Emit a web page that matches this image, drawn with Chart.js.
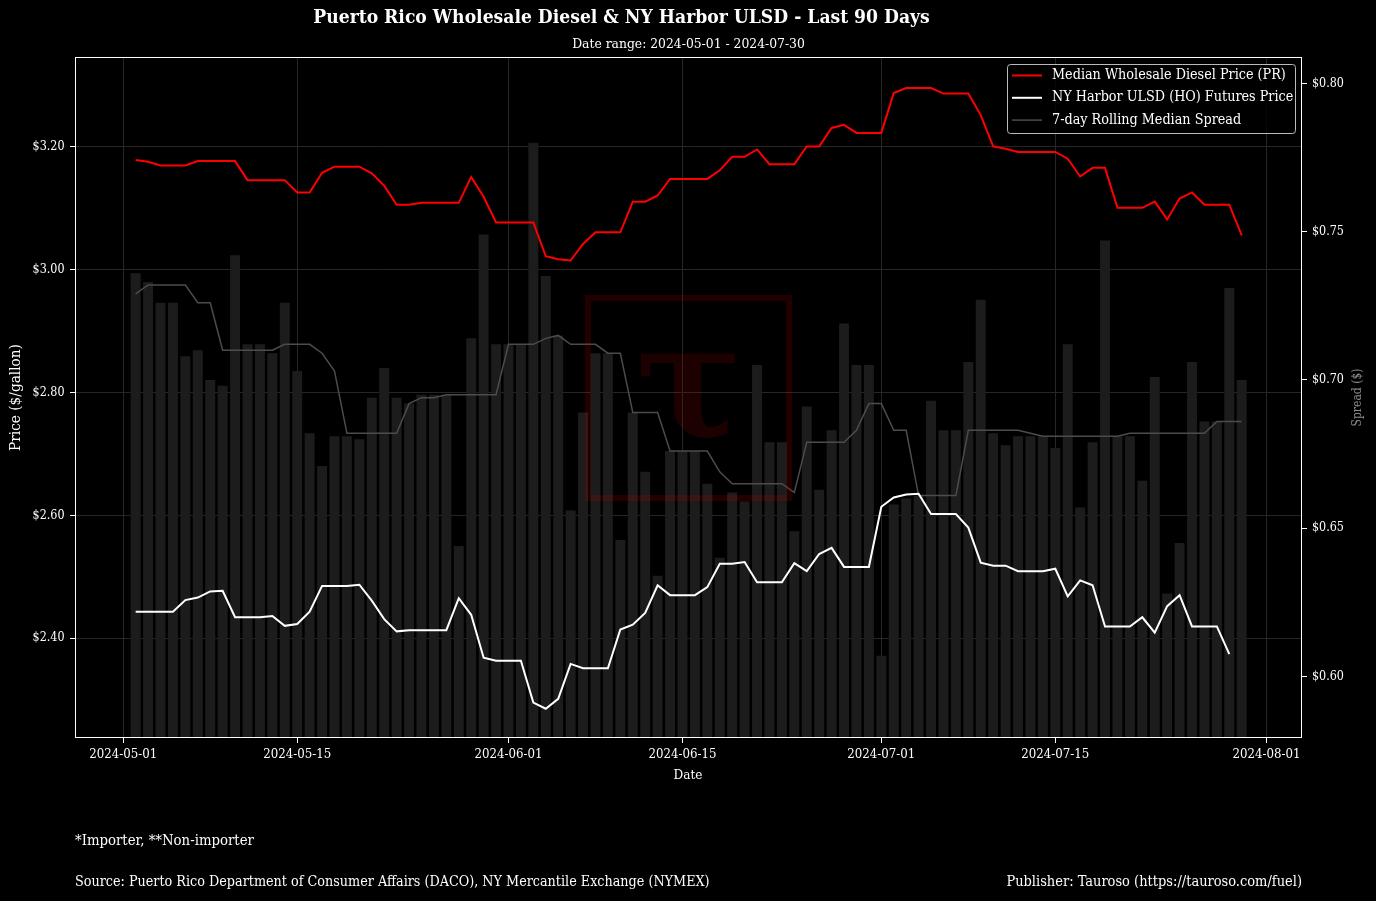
<!DOCTYPE html>
<html>
<head>
<meta charset="utf-8">
<script src="https://cdn.jsdelivr.net/npm/chart.js@4.4.1/dist/chart.umd.min.js"></script>
<style>
  html, body { margin: 0; padding: 0; background: #000; }
  #wrap { width: 1376px; height: 901px; }
</style>
</head>
<body>
<div id="wrap"><canvas id="chart" width="1376" height="901"></canvas></div>
<script>
// daily values, first point = startDate
const startDate = '2024-05-02';

const prPrice = [
  3.179, 3.176, 3.170, 3.170, 3.170, 3.177, 3.177, 3.177, 3.177, 3.146,
  3.146, 3.146, 3.146, 3.126, 3.126, 3.158, 3.168, 3.168, 3.168, 3.157,
  3.137, 3.106, 3.106, 3.109, 3.109, 3.109, 3.109, 3.151, 3.119, 3.077,
  3.077, 3.077, 3.077, 3.022, 3.017, 3.015, 3.042, 3.061, 3.061, 3.061,
  3.111, 3.111, 3.121, 3.148, 3.148, 3.148, 3.148, 3.162, 3.184, 3.184,
  3.196, 3.172, 3.172, 3.172, 3.201, 3.201, 3.231, 3.236, 3.223, 3.223,
  3.223, 3.288, 3.296, 3.296, 3.296, 3.287, 3.287, 3.287, 3.252, 3.201,
  3.197, 3.192, 3.192, 3.192, 3.192, 3.181, 3.152, 3.166, 3.166, 3.101,
  3.101, 3.101, 3.111, 3.082, 3.116, 3.126, 3.106, 3.106, 3.106, 3.056
];

const hoPrice = [
  2.443, 2.443, 2.443, 2.443, 2.462, 2.466, 2.476, 2.477, 2.434, 2.434,
  2.434, 2.436, 2.420, 2.423, 2.443, 2.485, 2.485, 2.485, 2.487, 2.461,
  2.431, 2.411, 2.413, 2.413, 2.413, 2.413, 2.465, 2.438, 2.368, 2.363,
  2.363, 2.363, 2.295, 2.285, 2.301, 2.358, 2.351, 2.351, 2.351, 2.414,
  2.422, 2.441, 2.486, 2.470, 2.470, 2.470, 2.483, 2.521, 2.521, 2.524,
  2.491, 2.491, 2.491, 2.522, 2.509, 2.537, 2.547, 2.516, 2.516, 2.516,
  2.614, 2.629, 2.634, 2.635, 2.602, 2.602, 2.602, 2.580, 2.523, 2.518,
  2.518, 2.509, 2.509, 2.509, 2.513, 2.468, 2.494, 2.486, 2.419, 2.419,
  2.419, 2.434, 2.409, 2.452, 2.470, 2.419, 2.419, 2.419, 2.374, null
];

const spread = [
  0.736, 0.733, 0.726, 0.726, 0.708, 0.710, 0.700, 0.698, 0.742, 0.712,
  0.712, 0.709, 0.726, 0.703, 0.682, 0.671, 0.681, 0.681, 0.680, 0.694,
  0.704, 0.694, 0.692, 0.695, 0.695, 0.695, 0.644, 0.714, 0.749, 0.712,
  0.712, 0.712, 0.780, 0.735, 0.715, 0.656, 0.689, 0.709, 0.709, 0.646,
  0.689, 0.669, 0.634, 0.676, 0.676, 0.676, 0.665, 0.640, 0.662, 0.659,
  0.705, 0.679, 0.679, 0.649, 0.691, 0.663, 0.683, 0.719, 0.705, 0.705,
  0.607, 0.658, 0.660, 0.661, 0.693, 0.683, 0.683, 0.706, 0.727, 0.682,
  0.678, 0.681, 0.681, 0.681, 0.677, 0.712, 0.657, 0.679, 0.747, 0.681,
  0.681, 0.666, 0.701, 0.628, 0.645, 0.706, 0.686, 0.686, 0.731, 0.700
];

const rollingSpread = [
  0.729, 0.732, 0.732, 0.732, 0.732, 0.726, 0.726, 0.710, 0.710, 0.710,
  0.710, 0.710, 0.712, 0.712, 0.712, 0.709, 0.703, 0.682, 0.682, 0.682,
  0.682, 0.682, 0.692, 0.694, 0.694, 0.695, 0.695, 0.695, 0.695, 0.695,
  0.712, 0.712, 0.712, 0.714, 0.715, 0.712, 0.712, 0.712, 0.709, 0.709,
  0.689, 0.689, 0.689, 0.676, 0.676, 0.676, 0.676, 0.669, 0.665, 0.665,
  0.665, 0.665, 0.665, 0.662, 0.679, 0.679, 0.679, 0.679, 0.683, 0.692,
  0.692, 0.683, 0.683, 0.661, 0.661, 0.661, 0.661, 0.683, 0.683, 0.683,
  0.683, 0.683, 0.682, 0.681, 0.681, 0.681, 0.681, 0.681, 0.681, 0.681,
  0.682, 0.682, 0.682, 0.682, 0.682, 0.682, 0.682, 0.686, 0.686, 0.686
];

const xTickDates = ['2024-05-01', '2024-05-15', '2024-06-01', '2024-06-15', '2024-07-01', '2024-07-15', '2024-08-01'];
const priceTicks = [2.40, 2.60, 2.80, 3.00, 3.20];
const spreadTicks = [0.60, 0.65, 0.70, 0.75, 0.80];

const FONT = "'DejaVu Serif', serif";

function dayIndex(d) {
  return Math.round((Date.parse(d) - Date.parse(startDate)) / 86400000);
}

function setFont(c, weight, size) {
  c.font = weight + ' ' + size + 'px ' + FONT;
  c.fontStretch = 'condensed';
}

// pick a font size so the text comes out at the width seen in the picture
const mctx = document.createElement('canvas').getContext('2d');
function fitSize(text, weight, width) {
  setFont(mctx, weight, 100);
  return 100 * width / mctx.measureText(text).width;
}

function pts(arr) {
  return arr.map((v, i) => ({ x: i, y: v }));
}

function drawText(ctx, text, x, y, align, width, weight, color) {
  setFont(ctx, weight, fitSize(text, weight, width));
  ctx.fillStyle = color;
  ctx.textAlign = align;
  ctx.textBaseline = 'middle';
  ctx.fillText(text, x, y);
}

const money = v => '$' + v.toFixed(2);
const yTickSize = fitSize('$3.20', 'normal', 32);
const xTickSize = fitSize('2024-05-01', 'normal', 68);

const series = [
  { label: 'Median Wholesale Diesel Price (PR)', color: '#ff0000', width: 2 },
  { label: 'NY Harbor ULSD (HO) Futures Price', color: '#ffffff', width: 2 },
  { label: '7-day Rolling Median Spread', color: '#4c4c4c', width: 1.5 }
];

const decor = {
  id: 'decor',
  beforeDraw(chart) {
    const ctx = chart.ctx;
    ctx.save();
    ctx.fillStyle = '#000';
    ctx.fillRect(0, 0, chart.width, chart.height);
    ctx.restore();
  },
  afterDatasetsDraw(chart) {
    // tauroso watermark
    const ctx = chart.ctx;
    const a = chart.chartArea;
    ctx.save();
    ctx.beginPath();
    ctx.rect(a.left, a.top, a.right - a.left, a.bottom - a.top);
    ctx.clip();
    ctx.strokeStyle = 'rgba(200, 0, 0, 0.17)';
    ctx.lineWidth = 6;
    ctx.strokeRect(588, 298, 201, 200);
    ctx.font = 'bold 200px ' + FONT;
    let m = ctx.measureText('τ');
    const h = m.actualBoundingBoxAscent + m.actualBoundingBoxDescent;
    ctx.font = 'bold ' + (200 * 90 / h) + 'px ' + FONT;
    m = ctx.measureText('τ');
    ctx.textAlign = 'left';
    ctx.textBaseline = 'alphabetic';
    ctx.fillStyle = 'rgba(170, 0, 0, 0.17)';
    const cx = 688, cy = 398;
    ctx.fillText('τ',
      cx - (m.actualBoundingBoxRight - m.actualBoundingBoxLeft) / 2,
      cy + (m.actualBoundingBoxAscent - m.actualBoundingBoxDescent) / 2);
    ctx.restore();
  },
  afterDraw(chart) {
    const ctx = chart.ctx;
    const a = chart.chartArea;
    const sx = chart.scales.x, sy = chart.scales.y, sy2 = chart.scales.y2;
    ctx.save();

    // frame
    ctx.strokeStyle = '#ffffff';
    ctx.lineWidth = 1;
    ctx.strokeRect(a.left + 0.5, a.top + 0.5, a.right - a.left - 1, a.bottom - a.top - 1);

    // tick labels
    ctx.fillStyle = '#ffffff';
    ctx.textBaseline = 'middle';
    setFont(ctx, 'normal', yTickSize);
    ctx.textAlign = 'right';
    priceTicks.forEach(v => ctx.fillText(money(v), a.left - 10.5, sy.getPixelForValue(v)));
    ctx.textAlign = 'left';
    spreadTicks.forEach(v => ctx.fillText(money(v), a.right + 10, sy2.getPixelForValue(v)));
    setFont(ctx, 'normal', xTickSize);
    ctx.textAlign = 'center';
    xTickDates.forEach(d => ctx.fillText(d, sx.getPixelForValue(dayIndex(d)), a.bottom + 17));

    // titles
    drawText(ctx, 'Puerto Rico Wholesale Diesel & NY Harbor ULSD - Last 90 Days', 621.5, 18, 'center', 617, 'bold', '#ffffff');
    drawText(ctx, 'Date range: 2024-05-01 - 2024-07-30', 688.5, 44, 'center', 233, 'normal', '#ffffff');
    drawText(ctx, 'Date', 688, 776, 'center', 29, 'normal', '#ffffff');

    const midY = (a.top + a.bottom) / 2;
    ctx.save();
    ctx.translate(16, midY);
    ctx.rotate(-Math.PI / 2);
    drawText(ctx, 'Price ($/gallon)', 0, 0, 'center', 107, 'normal', '#ffffff');
    ctx.restore();
    ctx.save();
    ctx.translate(1358, midY);
    ctx.rotate(-Math.PI / 2);
    drawText(ctx, 'Spread ($)', 0, 0, 'center', 58, 'normal', '#8c8c8c');
    ctx.restore();

    // footnotes
    drawText(ctx, '*Importer, **Non-importer', 75, 841, 'left', 179, 'normal', '#ffffff');
    drawText(ctx, 'Source: Puerto Rico Department of Consumer Affairs (DACO), NY Mercantile Exchange (NYMEX)', 75, 882, 'left', 635, 'normal', '#ffffff');
    drawText(ctx, 'Publisher: Tauroso (https://tauroso.com/fuel)', 1302, 882, 'right', 296, 'normal', '#ffffff');

    // legend
    ctx.fillStyle = 'rgba(0, 0, 0, 0.8)';
    ctx.strokeStyle = '#bbbbbb';
    ctx.lineWidth = 1;
    ctx.beginPath();
    ctx.roundRect(1007.5, 64.5, 288, 69, 3);
    ctx.fill();
    ctx.stroke();
    const legSize = fitSize(series[0].label, 'normal', 234);
    series.forEach((s, i) => {
      const y = 75.5 + i * 22.3;
      ctx.strokeStyle = s.color;
      ctx.lineWidth = s.width;
      ctx.beginPath();
      ctx.moveTo(1012, y);
      ctx.lineTo(1042, y);
      ctx.stroke();
      setFont(ctx, 'normal', legSize);
      ctx.fillStyle = '#ffffff';
      ctx.textAlign = 'left';
      ctx.textBaseline = 'middle';
      ctx.fillText(s.label, 1052, y);
    });

    ctx.restore();
  }
};

const ctx = document.getElementById('chart').getContext('2d');
new Chart(ctx, {
  type: 'line',
  data: {
    datasets: [
      {
        label: series[0].label,
        data: pts(prPrice),
        borderColor: series[0].color,
        borderWidth: series[0].width,
        pointRadius: 0,
        yAxisID: 'y',
        order: 0
      },
      {
        label: series[1].label,
        data: pts(hoPrice),
        borderColor: series[1].color,
        borderWidth: series[1].width,
        pointRadius: 0,
        yAxisID: 'y',
        order: 1
      },
      {
        label: series[2].label,
        data: pts(rollingSpread),
        borderColor: series[2].color,
        borderWidth: series[2].width,
        pointRadius: 0,
        yAxisID: 'y2',
        order: 2
      },
      {
        type: 'bar',
        label: 'Daily Spread',
        data: pts(spread),
        backgroundColor: '#1c1c1c',
        borderWidth: 0,
        barPercentage: 0.8,
        categoryPercentage: 1.0,
        yAxisID: 'y2',
        order: 3
      }
    ]
  },
  options: {
    responsive: false,
    animation: false,
    layout: { padding: { top: 57, left: 0, right: 0, bottom: 0 } },
    plugins: {
      legend: { display: false },
      tooltip: { enabled: false },
      title: { display: false }
    },
    scales: {
      x: {
        type: 'linear',
        min: -4.88,
        max: 93.85,
        offset: false,
        afterFit: s => { s.height = 163; },
        afterBuildTicks: s => { s.ticks = xTickDates.map(d => ({ value: dayIndex(d) })); },
        ticks: { display: false },
        grid: { color: '#262626', lineWidth: 1, tickColor: '#ffffff', tickLength: 5, offset: false },
        border: { display: false }
      },
      y: {
        position: 'left',
        min: 2.2373,
        max: 3.3466,
        afterFit: s => { s.width = 75; },
        afterBuildTicks: s => { s.ticks = priceTicks.map(v => ({ value: v })); },
        ticks: { display: false },
        grid: { color: '#262626', lineWidth: 1, tickColor: '#ffffff', tickLength: 5 },
        border: { display: false }
      },
      y2: {
        position: 'right',
        min: 0.57926,
        max: 0.80887,
        afterFit: s => { s.width = 74; },
        afterBuildTicks: s => { s.ticks = spreadTicks.map(v => ({ value: v })); },
        ticks: { display: false },
        grid: { drawOnChartArea: false, tickColor: '#ffffff', tickLength: 5 },
        border: { display: false }
      }
    }
  },
  plugins: [decor]
});
</script>
</body>
</html>
